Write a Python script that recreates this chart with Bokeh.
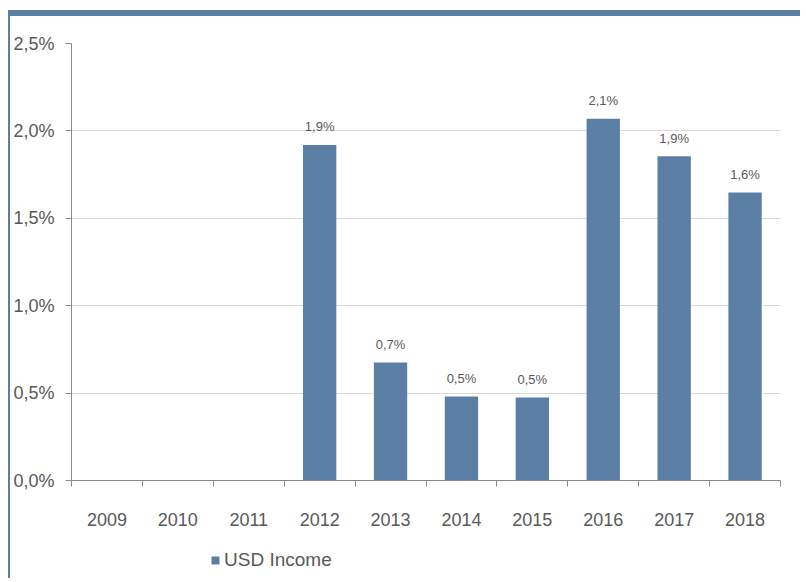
from bokeh.plotting import figure
from bokeh.layouts import column
from bokeh.models import (ColumnDataSource, FixedTicker, LabelSet, Legend, LegendItem, Range1d)
from bokeh.core.properties import value
from bokeh.embed import file_html
from bokeh.resources import INLINE
import numpy as np

years = ["2009", "2010", "2011", "2012", "2013", "2014", "2015", "2016", "2017", "2018"]
usd_income = [0.0, 0.0, 0.0, 1.92, 0.675, 0.48, 0.475, 2.07, 1.855, 1.648]
bar_labels = ["", "", "", "1,9%", "0,7%", "0,5%", "0,5%", "2,1%", "1,9%", "1,6%"]
y_ticks = [0.0, 0.5, 1.0, 1.5, 2.0, 2.5]
y_tick_labels = ["0,0%", "0,5%", "1,0%", "1,5%", "2,0%", "2,5%"]
series_name = "USD Income"

BLUE = "#5b7fa4"
TXT = "#595959"
FONT = "Liberation Sans"

W = 790
H1, H2 = 524, 38
ML, MT, MR, MB = 61, 27, 20, 60

xs = np.arange(len(years)) + 0.5
src = ColumnDataSource(dict(x=xs, top=usd_income, lab=bar_labels,
                            ly=[v if l else np.nan for v, l in zip(usd_income, bar_labels)]))

p = figure(width=W, height=H1, output_backend="svg", toolbar_location=None,
           x_range=Range1d(0, len(years)), y_range=Range1d(0, 2.5),
           min_border_left=ML, min_border_top=MT, min_border_right=MR, min_border_bottom=MB)
p.outline_line_color = None
p.background_fill_color = "white"
p.border_fill_color = "white"

r = p.vbar(x="x", top="top", width=0.47, bottom=0, source=src, fill_color=BLUE, line_color=None)

lbl = LabelSet(x="x", y="ly", text="lab", source=src, text_align="center", text_baseline="middle",
               y_offset=18, text_font=value(FONT), text_font_size="13px", text_color=TXT)
p.add_layout(lbl)

# x axis
xa = p.xaxis[0]
xa.ticker = FixedTicker(ticks=list(xs), minor_ticks=list(range(len(years) + 1)))
xa.major_label_overrides = {float(x): y for x, y in zip(xs, years)}
xa.major_tick_out = 0
xa.major_tick_in = 0
xa.minor_tick_out = 6
xa.minor_tick_in = 0
xa.minor_tick_line_color = "#898989"
xa.axis_line_color = "#898989"
xa.major_label_standoff = 26
xa.major_label_text_font = FONT
xa.major_label_text_font_size = "18px"
xa.major_label_text_color = TXT

# y axis
ya = p.yaxis[0]
ya.ticker = FixedTicker(ticks=y_ticks)
ya.major_label_overrides = {t: l for t, l in zip(y_ticks, y_tick_labels)}
ya.major_tick_out = 6
ya.major_tick_in = 0
ya.minor_tick_line_color = None
ya.major_tick_line_color = "#898989"
ya.axis_line_color = "#898989"
ya.major_label_standoff = 11
ya.major_label_text_font = FONT
ya.major_label_text_font_size = "18px"
ya.major_label_text_color = TXT

p.xgrid.grid_line_color = None
p.ygrid.grid_line_color = "#d9d9d9"
p.ygrid.ticker = FixedTicker(ticks=y_ticks)

# legend strip below the chart (same series, drawn outside this strip's visible range)
p2 = figure(width=W, height=H2, output_backend="svg", toolbar_location=None,
            x_axis_type=None, y_axis_type=None,
            x_range=Range1d(0, len(years)), y_range=Range1d(10, 11),
            min_border_left=0, min_border_right=0, min_border_top=0, min_border_bottom=0)
p2.outline_line_color = None
p2.grid.visible = False
p2.border_fill_color = "white"
p2.background_fill_color = "white"
r2 = p2.vbar(x="x", top="top", width=0.47, bottom=0, source=src, fill_color=BLUE, line_color=None)
legend = Legend(items=[LegendItem(label=series_name, renderers=[r2])],
                location=(139, 7), orientation="horizontal",
                label_text_font=FONT, label_text_font_size="19px", label_text_color=TXT,
                glyph_width=10, glyph_height=10, label_standoff=4,
                padding=0, margin=0, spacing=0,
                border_line_color=None, background_fill_alpha=0)
p2.add_layout(legend, "center")

layout = column(p, p2, margin=(10, 0, 0, 8), spacing=0, width=W + 2, height=H1 + H2 + 6,
                styles={"border-top": f"6px solid {BLUE}", "border-left": f"2px solid {BLUE}"})

open("out.html", "w").write(file_html(layout, INLINE))
